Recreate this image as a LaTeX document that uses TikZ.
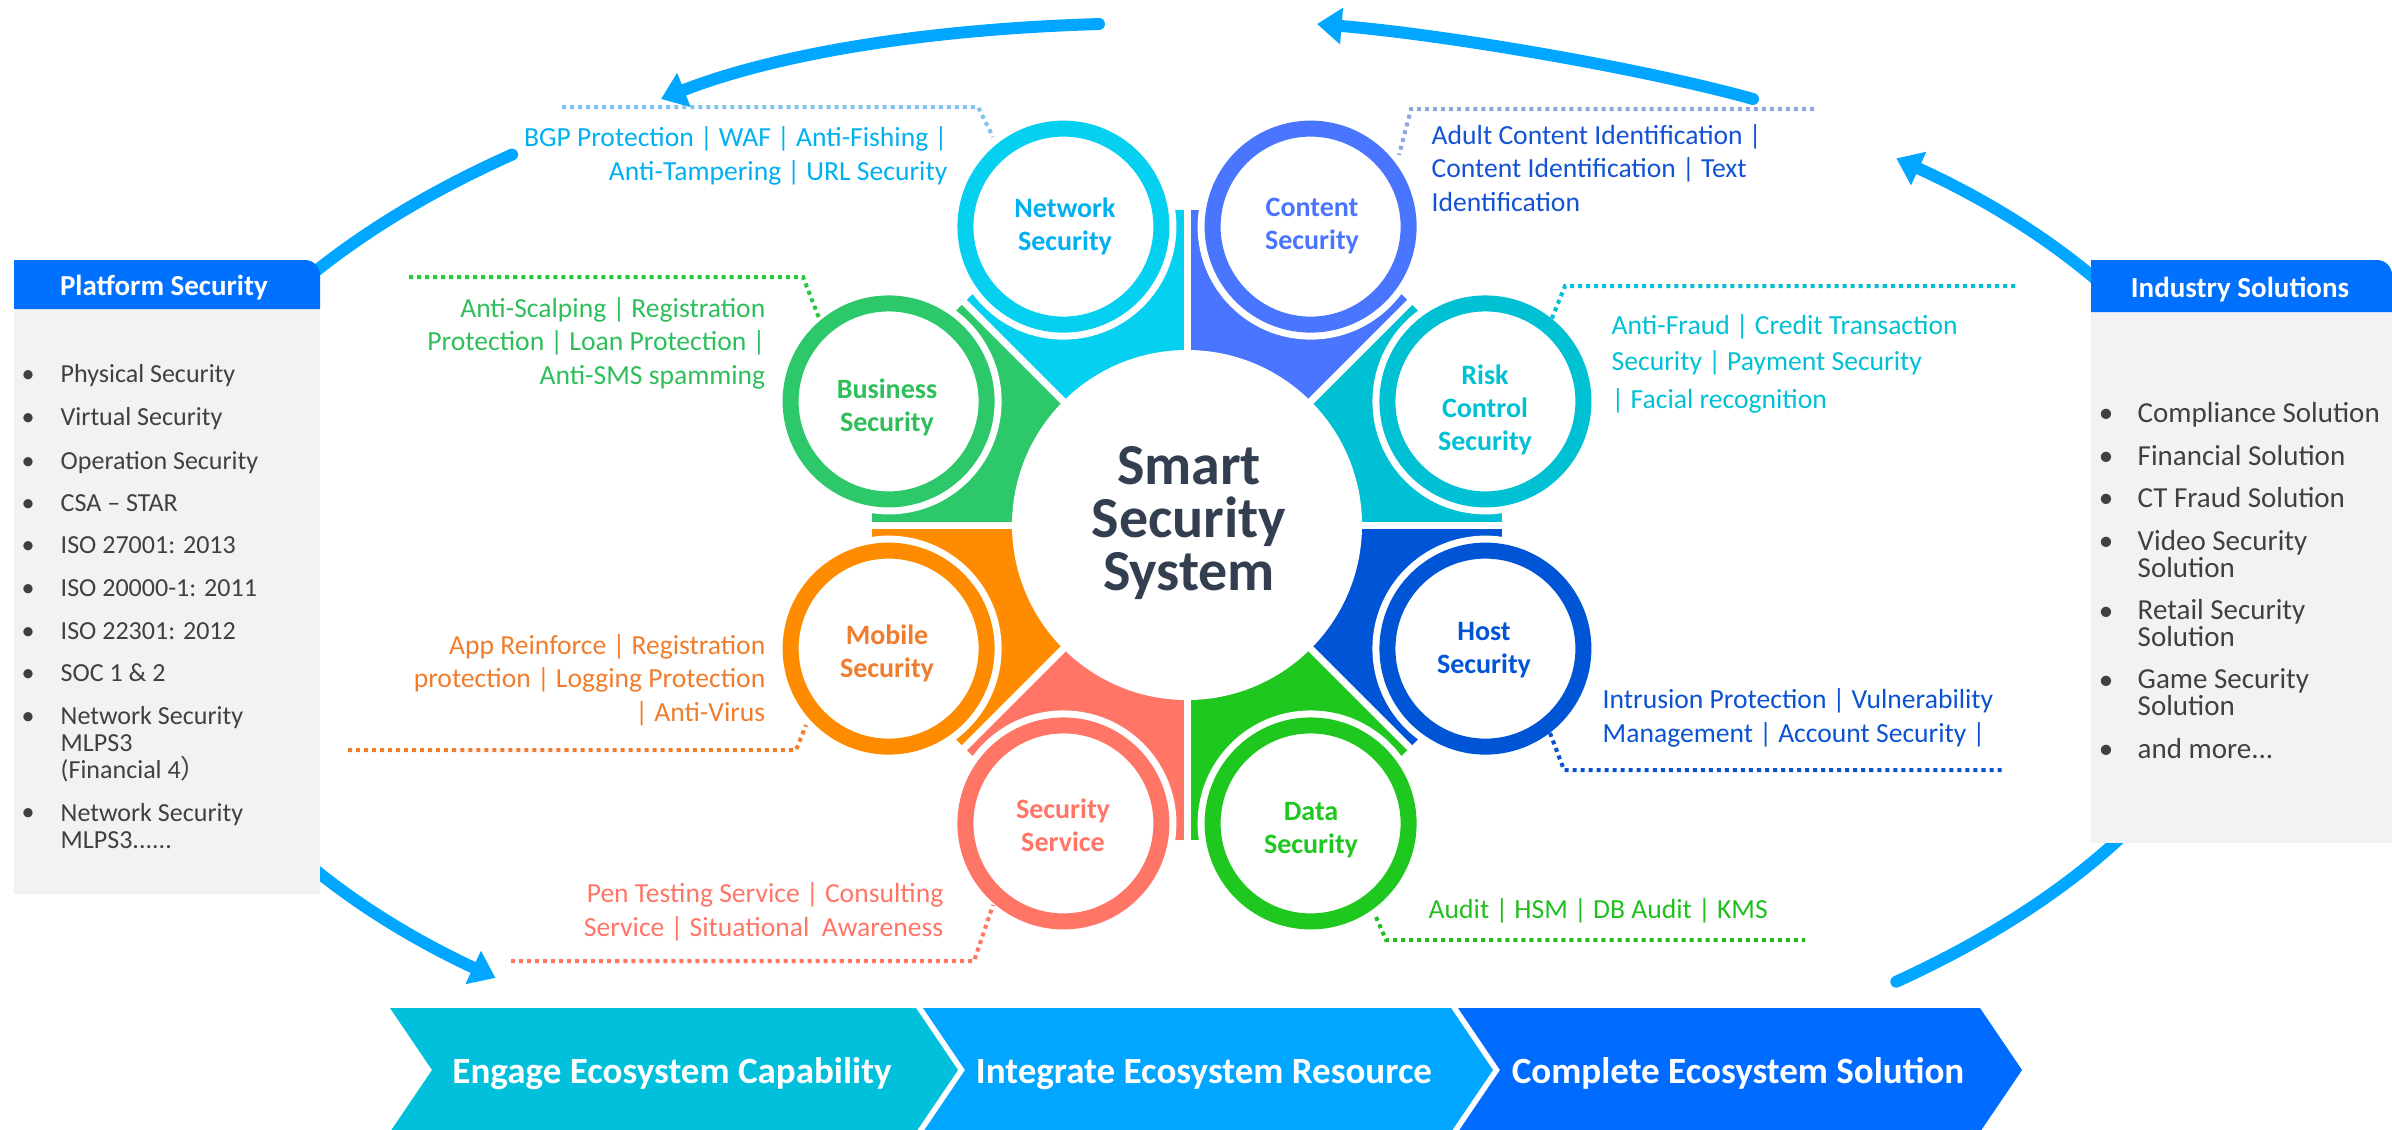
\documentclass[tikz,border=0pt]{standalone}
\usepackage{fontspec}
\setmainfont{Carlito}
\newfontfamily\cjkfont{Noto Sans CJK SC}
\usetikzlibrary{arrows.meta}
\definecolor{cNet}{RGB}{5,208,240}
\definecolor{cNetT}{RGB}{0,176,240}
\definecolor{cNetL}{RGB}{130,195,235}
\definecolor{cCon}{RGB}{74,118,255}
\definecolor{cConT}{RGB}{20,82,212}
\definecolor{cConL}{RGB}{143,165,220}
\definecolor{cRisk}{RGB}{0,192,212}
\definecolor{cHost}{RGB}{0,85,215}
\definecolor{cHostT}{RGB}{10,82,210}
\definecolor{cData}{RGB}{30,200,30}
\definecolor{cDataT}{RGB}{34,190,30}
\definecolor{cServ}{RGB}{255,117,102}
\definecolor{cMob}{RGB}{255,140,0}
\definecolor{cMobT}{RGB}{240,125,45}
\definecolor{cBus}{RGB}{45,200,105}
\definecolor{cBusT}{RGB}{46,190,90}
\definecolor{cBusL}{RGB}{40,200,60}
\definecolor{cTitle}{RGB}{51,63,80}
\definecolor{cArrow}{RGB}{0,166,255}
\definecolor{cHdr}{RGB}{0,112,255}
\definecolor{cBody}{RGB}{242,242,242}
\definecolor{cList}{RGB}{64,64,64}
\definecolor{cChA}{RGB}{0,192,220}
\definecolor{cChB}{RGB}{0,166,255}
\definecolor{cChC}{RGB}{0,108,255}
\tikzset{
  bigarrow/.style={draw=cArrow, line width=3.4pt, line cap=round, -{Triangle[length=7pt,width=10pt]}},
  leader/.style={line width=1.14pt, dash pattern=on 1.14pt off 1.14pt},
  desc/.style={inner sep=0pt, font=\fontsize{7.85pt}{9.5pt}\selectfont},
  petal/.style={inner sep=0pt, align=center, font=\bfseries\fontsize{7.97pt}{9.4pt}\selectfont},
  ring/.style={line width=4.55pt},
  hdrtxt/.style={inner sep=0pt, anchor=base, text=white, font=\bfseries\fontsize{8.25pt}{9pt}\selectfont},
  litem/.style={inner sep=0pt, anchor=base west, align=left, text=cList, font=\fontsize{7.4pt}{7.68pt}\selectfont},
  lbul/.style={inner sep=0pt, anchor=base, text=cList, font=\fontsize{7.4pt}{7.68pt}\selectfont},
  ritem/.style={inner sep=0pt, anchor=base west, align=left, text=cList, font=\fontsize{8.25pt}{7.45pt}\selectfont},
  rbul/.style={inner sep=0pt, anchor=base, text=cList, font=\fontsize{8.25pt}{7.45pt}\selectfont},
  chevtxt/.style={inner sep=0pt, anchor=base, text=white, font=\bfseries\fontsize{10.53pt}{12pt}\selectfont}
}
\begin{document}
\begin{tikzpicture}[x=0.01cm, y=-0.01cm]
\useasboundingbox (0,0) rectangle (2392,1129);
% ---------- big blue arrows ----------
\coordinate (E) at (1200,570);
\draw[bigarrow] ([shift={(229.3:1055 and 548)}]E) arc[start angle=229.3, end angle=131.9, x radius=1055, y radius=548];
\draw[bigarrow] ([shift={(48.7:1055 and 548)}]E) arc[start angle=48.7, end angle=-48.7, x radius=1055, y radius=548];
\coordinate (A0) at (1099,24);
\coordinate (A1) at (661,99);
\draw[bigarrow] (A0) .. controls (900,30) and (760,60) .. (A1);
\coordinate (B0) at (1753,99);
\coordinate (B1) at (1317,24);
\draw[bigarrow] (B0) .. controls (1650,70) and (1450,35) .. (B1);
% ---------- side boxes ----------
\fill[cBody] (14,309) rectangle (320,894);
\fill[cHdr] (14,309) -- (14,260) -- (305,260) arc[start angle=-90,end angle=0,radius=15] -- (320,309) -- cycle;
\node[hdrtxt] (hPlat) at (164,295) {Platform Security};
\fill[cBody] (2091,312) rectangle (2392,843);
\fill[cHdr] (2091,312) -- (2091,260) -- (2377,260) arc[start angle=-90,end angle=0,radius=15] -- (2392,312) -- cycle;
\node[hdrtxt] (hInd) at (2240,297) {Industry Solutions};
% left list (multi-line nodes: base = last line)
\node[lbul] (lb1) at (28,382) {•}; \node[litem] (li1) at (60,382) {Physical Security};
\node[lbul] (lb2) at (28,425) {•}; \node[litem] (li2) at (60,425) {Virtual Security};
\node[lbul] (lb3) at (28,469) {•}; \node[litem] (li3) at (60,469) {Operation Security};
\node[lbul] (lb4) at (28,511) {•}; \node[litem] (li4) at (60,511) {CSA – STAR};
\node[lbul] (lb5) at (28,553) {•}; \node[litem] (li5) at (60,553) {ISO 27001: 2013};
\node[lbul] (lb6) at (28,596) {•}; \node[litem] (li6) at (60,596) {ISO 20000-1: 2011};
\node[lbul] (lb7) at (28,639) {•}; \node[litem] (li7) at (60,639) {ISO 22301: 2012};
\node[lbul] (lb8) at (28,681) {•}; \node[litem] (li8) at (60,681) {SOC 1 \& 2};
\node[lbul] (lb9) at (28,724) {•}; \node[litem] (li9) at (60,778) {Network Security\\MLPS3\\(Financial 4{\cjkfont ）}};
\node[lbul] (lb10) at (28,820) {•}; \node[litem] (li10) at (60,848) {Network Security\\MLPS3......};
% right list
\node[rbul] (rb1) at (2106,422) {•}; \node[ritem] (ri1) at (2137,422) {Compliance Solution};
\node[rbul] (rb2) at (2106,465) {•}; \node[ritem] (ri2) at (2137,465) {Financial Solution};
\node[rbul] (rb3) at (2106,507) {•}; \node[ritem] (ri3) at (2137,507) {CT Fraud Solution};
\node[rbul] (rb4) at (2106,550) {•}; \node[ritem] (ri4) at (2137,577) {Video Security\\Solution};
\node[rbul] (rb5) at (2106,620) {•}; \node[ritem] (ri5) at (2137,646) {Retail Security\\Solution};
\node[rbul] (rb6) at (2106,689) {•}; \node[ritem] (ri6) at (2137,715) {Game Security\\Solution};
\node[rbul] (rb7) at (2106,758) {•}; \node[ritem] (ri7) at (2137,758) {and more...};
% ---------- sectors ----------
\coordinate (C) at (1187,525);
\foreach \col/\a in {cHost/0, cData/45, cServ/90, cMob/135, cBus/180, cNet/225, cCon/270, cRisk/315}{
  \fill[\col] (C) -- ([shift={(\a:315)}]C) arc[start angle=\a, end angle=\a+45, radius=315] -- cycle;
}
\foreach \a in {0,45,...,315}{
  \draw[white, line width=2pt] (C) -- ([shift={(\a:340)}]C);
}
\fill[white] (C) circle[radius=175];
\node[inner sep=0pt, anchor=base, align=center, text=cTitle, font=\bfseries\fontsize{16.5pt}{14.94pt}\selectfont] (title) at (1189,590) {Smart\\Security\\System};
% ---------- petals ----------
\coordinate (pRisk) at (1485.4,401.4);
\coordinate (pCon) at (1310.6,226.6);
\coordinate (pNet) at (1063.4,226.6);
\coordinate (pBus) at (888.6,401.4);
\coordinate (pMob) at (888.6,648.6);
\coordinate (pServ) at (1063.4,823.4);
\coordinate (pData) at (1310.6,823.4);
\coordinate (pHost) at (1485.4,648.6);
\foreach \p/\col in {pRisk/cRisk, pCon/cCon, pNet/cNet, pBus/cBus, pMob/cMob, pServ/cServ, pData/cData, pHost/cHost}{
  \fill[white] (\p) circle[radius=113];
  \draw[\col, ring] (\p) circle[radius=98];
}
\node[petal, text=cNetT] (lNet) at (1065,226) {Network\\Security};
\node[petal, text=cCon] (lCon) at (1312,226) {Content\\Security};
\node[petal, text=cRisk] (lRisk) at (1485,410) {Risk\\Control\\Security};
\node[petal, text=cBusT] (lBus) at (887,407) {Business\\Security};
\node[petal, text=cMobT] (lMob) at (887,653) {Mobile\\Security};
\node[petal, text=cServ] (lServ) at (1063,825) {Security\\Service};
\node[petal, text=cData] (lData) at (1311,830) {Data\\Security};
\node[petal, text=cHost] (lHost) at (1484,650) {Host\\Security};
% ---------- descriptions (base = last line) ----------
\node[desc, text=cNetT, align=right, anchor=base east] (tNet) at (948,180) {BGP Protection | WAF | Anti-Fishing |\\Anti-Tampering | URL Security};
\node[desc, text=cConT, align=left, anchor=base west] (tCon) at (1431,211) {Adult Content Identification |\\Content Identification | Text\\Identification};
\node[desc, text=cRisk, align=left, anchor=base west, font=\fontsize{7.85pt}{10pt}\selectfont] (tRisk) at (1611,408) {Anti-Fraud | Credit Transaction\\Security | Payment Security\\[0.8pt]| Facial recognition};
\node[desc, text=cBusT, align=right, anchor=base east] (tBus) at (766,384) {Anti-Scalping | Registration\\Protection | Loan Protection |\\Anti-SMS spamming};
\node[desc, text=cMobT, align=right, anchor=base east] (tMob) at (766,721) {App Reinforce | Registration\\protection | Logging Protection\\| Anti-Virus};
\node[desc, text=cServ, align=right, anchor=base east] (tServ) at (944,936) {Pen Testing Service | Consulting\\Service | Situational~~Awareness};
\node[desc, text=cDataT, anchor=base west] (tData) at (1428,918) {Audit | HSM | DB Audit | KMS};
\node[desc, text=cHostT, align=left, anchor=base west] (tHost) at (1602,742) {Intrusion Protection | Vulnerability\\Management | Account Security |};
% ---------- leaders ----------
\coordinate (n1) at (562,107); \coordinate (n2) at (978,107); \coordinate (n3) at (993,137);
\draw[leader, cNetL] (n1) -- (n2) -- (n3);
\coordinate (c1) at (1814,109); \coordinate (c2) at (1411,109); \coordinate (c3) at (1399,155);
\draw[leader, cConL] (c1) -- (c2) -- (c3);
\coordinate (r1) at (2015,286); \coordinate (r2) at (1565,286); \coordinate (r3) at (1550,323);
\draw[leader, cRisk] (r1) -- (r2) -- (r3);
\coordinate (b1) at (409,277); \coordinate (b2) at (803,277); \coordinate (b3) at (819,318);
\draw[leader, cBusL] (b1) -- (b2) -- (b3);
\coordinate (m1) at (348,750); \coordinate (m2) at (796,750); \coordinate (m3) at (806,725);
\draw[leader, cMobT] (m1) -- (m2) -- (m3);
\coordinate (s1) at (511,961); \coordinate (s2) at (974,961); \coordinate (s3) at (993,905);
\draw[leader, cServ] (s1) -- (s2) -- (s3);
\coordinate (d1) at (1376,917); \coordinate (d2) at (1386,940); \coordinate (d3) at (1805,940);
\draw[leader, cDataT] (d1) -- (d2) -- (d3);
\coordinate (h1) at (1550,733); \coordinate (h2) at (1564,770); \coordinate (h3) at (2003,770);
\draw[leader, cHostT] (h1) -- (h2) -- (h3);
% ---------- chevrons ----------
\fill[cChA] (390,1008) -- (916,1008) -- (958,1070) -- (916,1132) -- (390,1132) -- (432,1070) -- cycle;
\fill[cChB] (923,1008) -- (1451,1008) -- (1493,1070) -- (1451,1132) -- (923,1132) -- (965,1070) -- cycle;
\fill[cChC] (1458,1008) -- (1980,1008) -- (2022,1070) -- (1980,1132) -- (1458,1132) -- (1500,1070) -- cycle;
\node[chevtxt] (ch1) at (672,1083) {Engage Ecosystem Capability};
\node[chevtxt] (ch2) at (1204,1083) {Integrate Ecosystem Resource};
\node[chevtxt] (ch3) at (1738,1083) {Complete Ecosystem Solution};
\end{tikzpicture}
\end{document}
